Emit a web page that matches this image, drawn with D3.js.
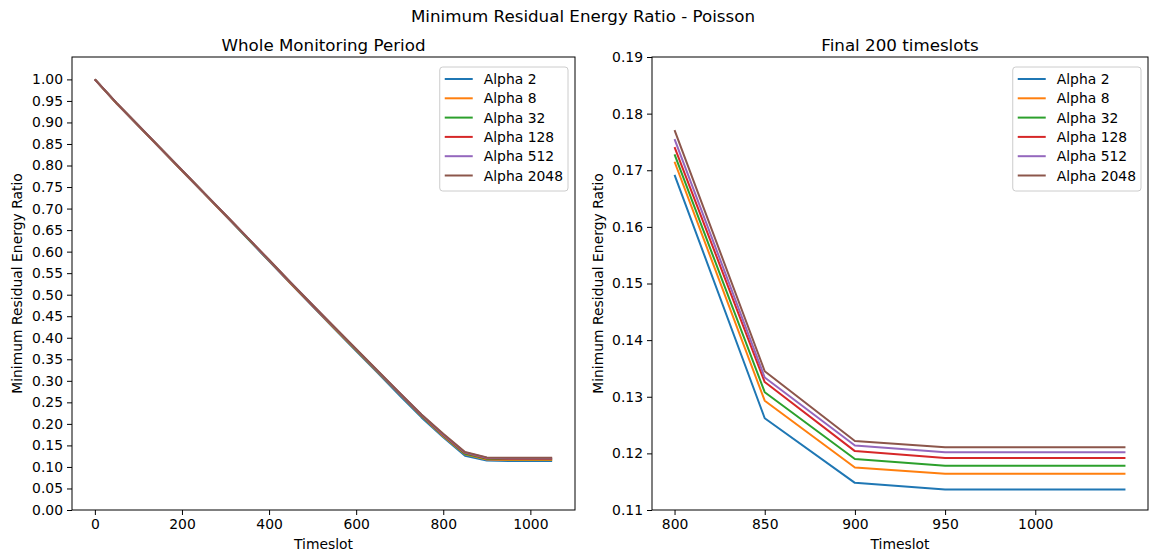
<!DOCTYPE html>
<html>
<head>
<meta charset="utf-8">
<script src="https://cdn.jsdelivr.net/npm/d3@7"></script>
<style>
  body { margin: 0; background: #fff; }
  text { font-family: "DejaVu Sans", sans-serif; fill: #000; }
</style>
</head>
<body>
<svg id="chart" width="1153" height="553"></svg>
<script>
// data
const timeslots = [0, 50, 100, 150, 200, 250, 300, 350, 400, 450, 500, 550, 600, 650, 700, 750, 800, 850, 900, 950, 1000, 1050];
const seriesNames = ["Alpha 2", "Alpha 8", "Alpha 32", "Alpha 128", "Alpha 512", "Alpha 2048"];
const alpha2 = [1.0, 0.944, 0.892, 0.840, 0.788, 0.736, 0.684, 0.631, 0.578, 0.525, 0.473, 0.421, 0.369, 0.318, 0.266, 0.215, 0.1692, 0.1262, 0.1148, 0.1136, 0.1136, 0.1136];
const alpha8 = [1.0, 0.944, 0.892, 0.840, 0.788, 0.736, 0.684, 0.632, 0.579, 0.526, 0.474, 0.422, 0.371, 0.320, 0.269, 0.218, 0.1715, 0.1293, 0.1175, 0.1164, 0.1164, 0.1164];
const alpha32 = [1.0, 0.945, 0.893, 0.841, 0.789, 0.737, 0.685, 0.632, 0.579, 0.527, 0.475, 0.423, 0.372, 0.321, 0.270, 0.219, 0.1728, 0.1308, 0.1190, 0.1178, 0.1178, 0.1178];
const alpha128 = [1.0, 0.945, 0.893, 0.841, 0.789, 0.737, 0.685, 0.633, 0.580, 0.527, 0.475, 0.424, 0.373, 0.322, 0.271, 0.220, 0.1741, 0.1326, 0.1204, 0.1192, 0.1192, 0.1192];
const alpha512 = [1.0, 0.945, 0.893, 0.841, 0.789, 0.737, 0.685, 0.633, 0.580, 0.528, 0.476, 0.424, 0.373, 0.322, 0.271, 0.221, 0.1755, 0.1334, 0.1214, 0.1202, 0.1202, 0.1202];
const alpha2048 = [1.0, 0.945, 0.893, 0.841, 0.789, 0.737, 0.685, 0.633, 0.581, 0.528, 0.476, 0.425, 0.374, 0.323, 0.272, 0.222, 0.1771, 0.1345, 0.1222, 0.1211, 0.1211, 0.1211];
const seriesValues = [alpha2, alpha8, alpha32, alpha128, alpha512, alpha2048];
const colors = ["#1f77b4", "#ff7f0e", "#2ca02c", "#d62728", "#9467bd", "#8c564b"];

const leftXTicks = [0, 200, 400, 600, 800, 1000];
const leftYTicks = d3.range(0, 21).map((i) => i * 0.05);
const rightXTicks = [800, 850, 900, 950, 1000];
const rightYTicks = [0.11, 0.12, 0.13, 0.14, 0.15, 0.16, 0.17, 0.18, 0.19];

const fontSmall = "13.9px";
const fontTitle = "16.7px";

const svg = d3.select("#chart");

svg.append("text")
  .attr("x", 583)
  .attr("y", 22)
  .attr("text-anchor", "middle")
  .style("font-size", fontTitle)
  .text("Minimum Residual Energy Ratio - Poisson");

function drawPanel(p) {
  const x = d3.scaleLinear().domain(p.xDomain).range([p.left, p.right]);
  const y = d3.scaleLinear().domain(p.yDomain).range([p.bottom, p.top]);
  const g = svg.append("g");

  // clip so lines stay in the frame
  const clipId = "clip" + p.left;
  svg.append("clipPath").attr("id", clipId)
    .append("rect")
    .attr("x", p.left).attr("y", p.top)
    .attr("width", p.right - p.left).attr("height", p.bottom - p.top);

  const line = d3.line()
    .x((d) => x(d[0]))
    .y((d) => y(d[1]));

  const plot = g.append("g").attr("clip-path", `url(#${clipId})`);
  seriesValues.forEach((vals, i) => {
    const pts = timeslots.map((t, k) => [t, vals[k]]).filter((d) => d[0] >= p.xMin);
    plot.append("path")
      .datum(pts)
      .attr("fill", "none")
      .attr("stroke", colors[i])
      .attr("stroke-width", 2)
      .attr("stroke-linejoin", "round")
      .attr("d", line);
  });

  const xAxis = g.append("g")
    .attr("transform", `translate(0,${p.bottom})`)
    .call(d3.axisBottom(x).tickValues(p.xTicks).tickFormat(d3.format("d")).tickSize(5).tickPadding(4));
  const yAxis = g.append("g")
    .attr("transform", `translate(${p.left},0)`)
    .call(d3.axisLeft(y).tickValues(p.yTicks).tickFormat(d3.format(".2f")).tickSize(5).tickPadding(4));
  [xAxis, yAxis].forEach((a) => {
    a.select(".domain").remove();
    a.selectAll("line").attr("stroke", "#000").attr("stroke-width", 1);
    a.selectAll("text").style("font-size", fontSmall).style("font-family", "DejaVu Sans");
  });

  g.append("rect")
    .attr("x", p.left).attr("y", p.top)
    .attr("width", p.right - p.left).attr("height", p.bottom - p.top)
    .attr("fill", "none").attr("stroke", "#000").attr("stroke-width", 1);

  g.append("text")
    .attr("x", (p.left + p.right) / 2)
    .attr("y", p.top - 6)
    .attr("text-anchor", "middle")
    .style("font-size", fontTitle)
    .text(p.title);

  g.append("text")
    .attr("x", (p.left + p.right) / 2)
    .attr("y", 549)
    .attr("text-anchor", "middle")
    .style("font-size", fontSmall)
    .text("Timeslot");

  g.append("text")
    .attr("transform", `translate(${p.yLabelX},${(p.top + p.bottom) / 2}) rotate(-90)`)
    .attr("text-anchor", "middle")
    .style("font-size", fontSmall)
    .text("Minimum Residual Energy Ratio");

  // legend
  const leg = g.append("g");
  const box = leg.append("rect");
  const rowH = 19.3;
  let maxW = 0;
  seriesNames.forEach((name, i) => {
    const yy = p.top + 22 + i * rowH;
    leg.append("line")
      .attr("x1", 0).attr("x2", 28)
      .attr("y1", yy).attr("y2", yy)
      .attr("stroke", colors[i]).attr("stroke-width", 2);
    const t = leg.append("text")
      .attr("x", 39).attr("y", yy + 5)
      .style("font-size", fontSmall)
      .text(name);
    maxW = Math.max(maxW, t.node().getComputedTextLength());
  });
  const boxW = 39 + maxW + 5 + 5;
  const boxX = p.right - 7 - boxW;
  leg.attr("transform", `translate(${boxX + 5},0)`);
  box.attr("x", -5).attr("y", p.top + 10)
    .attr("width", boxW).attr("height", 124)
    .attr("rx", 3)
    .attr("fill", "#fff").attr("fill-opacity", 0.8)
    .attr("stroke", "#ccc").attr("stroke-width", 1);
}

drawPanel({
  left: 72, right: 575, top: 57, bottom: 510,
  xDomain: [-52.5, 1102.5], yDomain: [0, 1.052], xMin: 0,
  xTicks: leftXTicks, yTicks: leftYTicks,
  title: "Whole Monitoring Period", yLabelX: 22
});

drawPanel({
  left: 652, right: 1148, top: 57, bottom: 510,
  xDomain: [787.5, 1062.5], yDomain: [0.11, 0.19], xMin: 800,
  xTicks: rightXTicks, yTicks: rightYTicks,
  title: "Final 200 timeslots", yLabelX: 603
});
</script>
</body>
</html>
